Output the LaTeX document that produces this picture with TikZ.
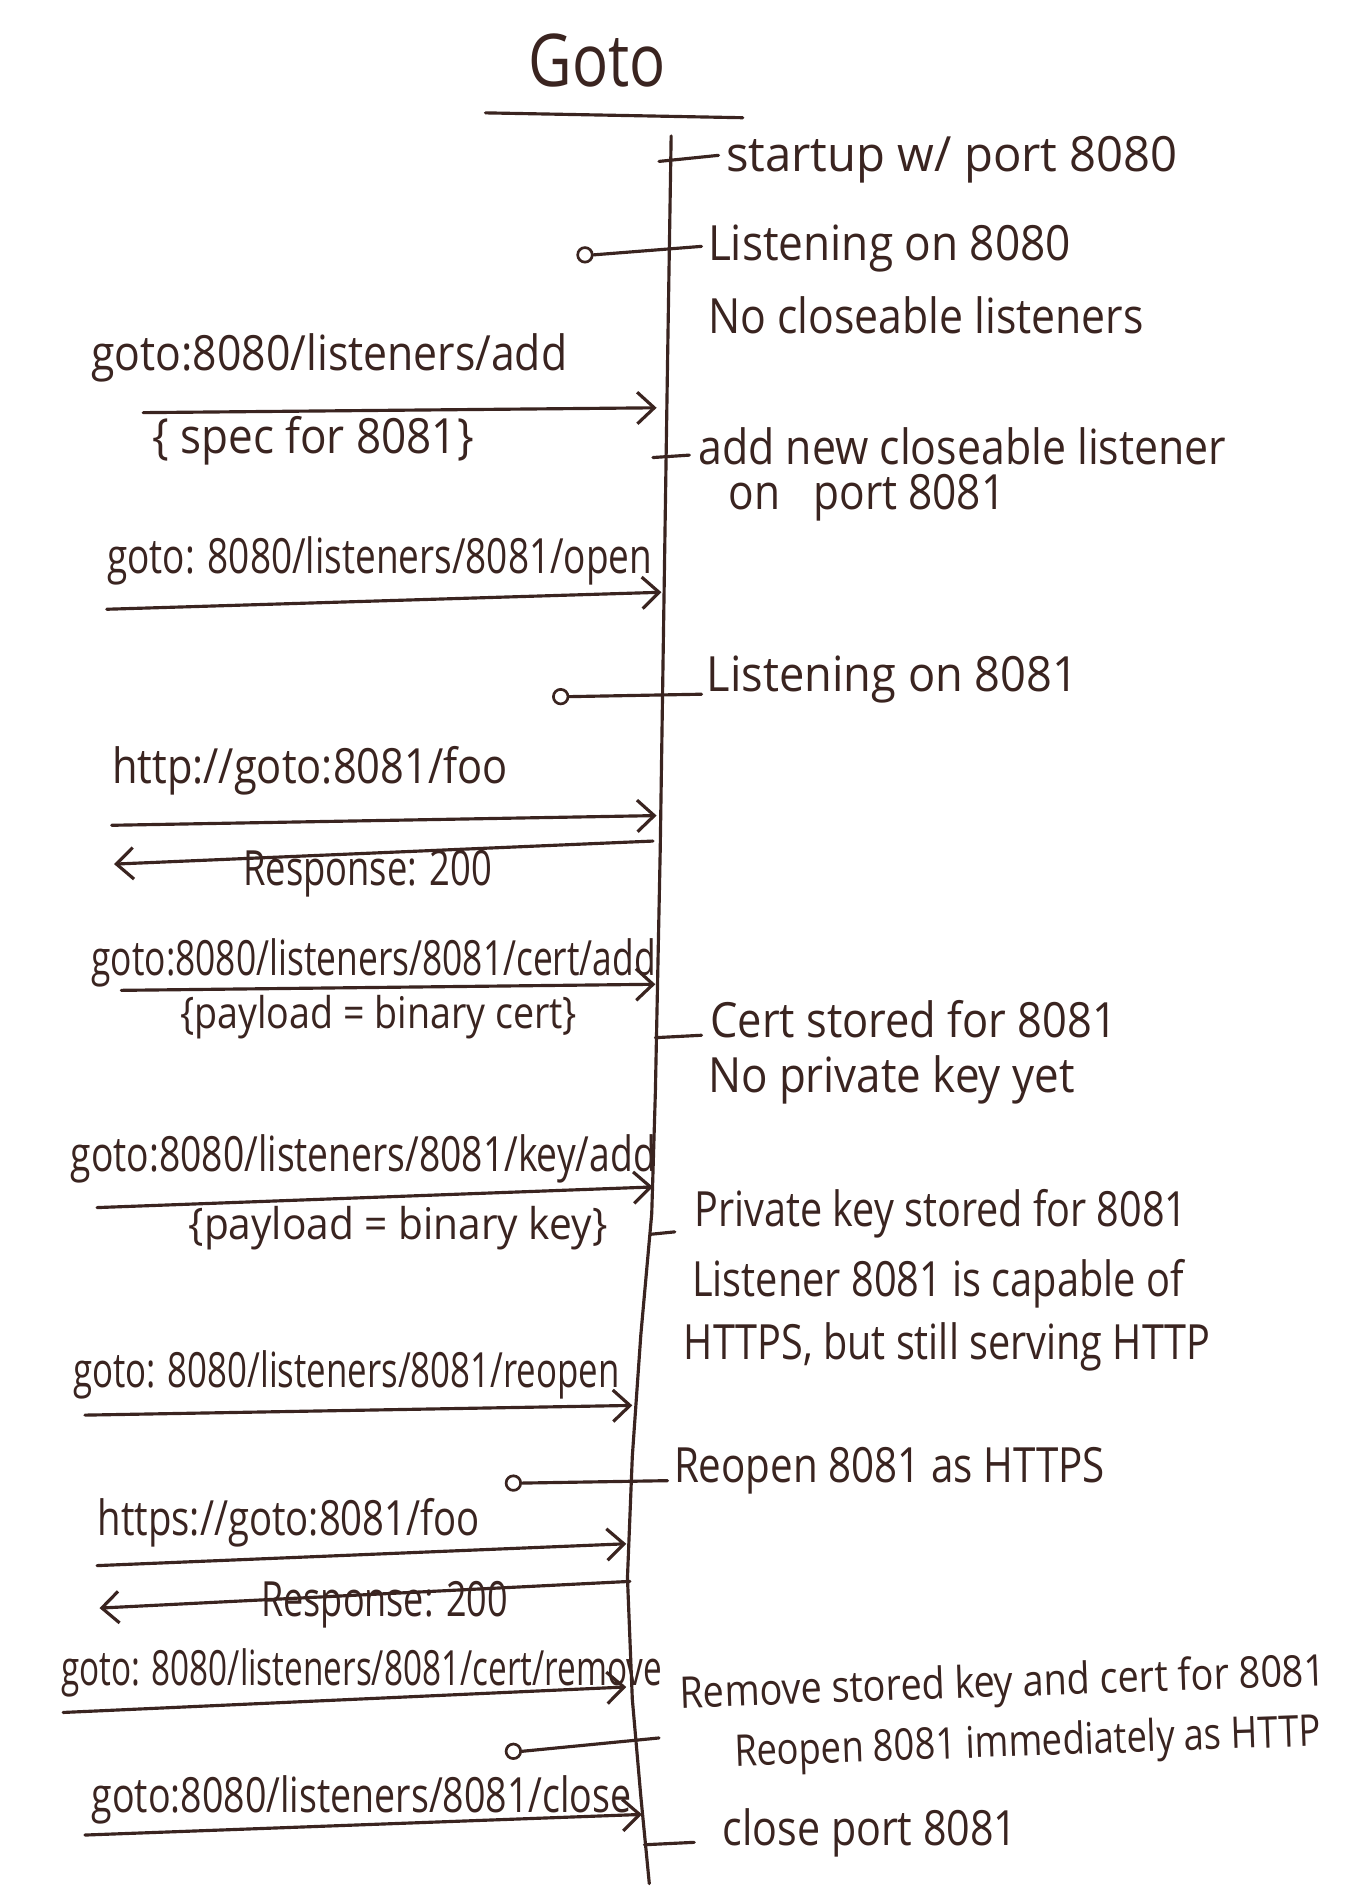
\documentclass[tikz,border=0pt]{standalone}
\usepackage{fontspec}
\setmainfont{Open Sans}
\usetikzlibrary{arrows.meta}
\definecolor{ink}{RGB}{58,36,32}
\newlength\du
\setlength\du{0.5pt}
\newcommand\hw[2]{\resizebox{#1\du}{\height}{#2}}
\begin{document}
\begin{tikzpicture}[x=0.5pt,y=-0.5pt,
  inkline/.style={draw=ink,line width=1.3pt,line cap=round,line join=round},
  msg/.style={inkline,-{Straight Barb[length=7pt,width=13pt]}},
  lbl/.style={anchor=west,inner sep=0pt,text=ink,font=\fontsize{20}{24}\selectfont},
  sml/.style={lbl,font=\fontsize{18}{22}\selectfont},
  found/.style={circle,draw=ink,line width=1.1pt,minimum size=6pt,inner sep=0pt}]
\useasboundingbox (0,0) rectangle (1122,1568);
\fill[white] (0,0) rectangle (1122,1568);

% title
\node[inner sep=0pt,text=ink,font=\fontsize{30}{36}\selectfont] (title) at (492,50) {\hw{113}{Goto}};
\coordinate (ul1) at (400,93);
\coordinate (ul2) at (612,97);
\draw[inkline] (ul1) -- (ul2);

% lifeline
\coordinate (L0) at (553,112);
\coordinate (L1) at (550,300);
\coordinate (L2) at (547,500);
\coordinate (L3) at (544,700);
\coordinate (L4) at (540,900);
\coordinate (L5) at (537,1000);
\coordinate (L6) at (528,1100);
\coordinate (L7) at (521,1200);
\coordinate (L8) at (517,1300);
\coordinate (L9) at (521,1400);
\coordinate (L10) at (528,1480);
\coordinate (L11) at (535,1552);
\draw[inkline] (L0) -- (L1) -- (L2) -- (L3) -- (L4) -- (L5) -- (L6) -- (L7) -- (L8) -- (L9) -- (L10) -- (L11);

% startup
\coordinate (t1s) at (543,133);
\coordinate (t1e) at (592,128);
\draw[inkline] (t1s) -- (t1e);
\node[lbl] (n1) at (598,132) {\hw{372}{startup w/ port 8080}};

% listening 8080
\node[found] (f1) at (482,210) {};
\coordinate (f1e) at (578,203);
\draw[inkline] (f1.east) -- (f1e);
\node[lbl] (n2) at (583,205) {\hw{299}{Listening on 8080}};
\node[lbl] (n3) at (583,260) {\hw{359}{No closeable listeners}};

% listeners/add
\node[lbl] (m1) at (75,295) {\hw{392}{goto:8080/listeners/add}};
\coordinate (a1s) at (118,340);
\coordinate (a1e) at (541,336);
\draw[msg] (a1s) -- (a1e);
\node[lbl] (m1b) at (125,363) {\hw{265}{\{ spec for 8081\}}};

\coordinate (t3s) at (538,377);
\coordinate (t3e) at (568,375);
\draw[inkline] (t3s) -- (t3e);
\node[lbl] (n4) at (575,368) {\hw{435}{add new closeable listener}};
\node[lbl] (n5) at (600,410) {\hw{228}{on~~ port 8081}};

% open
\node[lbl] (m2) at (88,462) {\hw{449}{goto: 8080/listeners/8081/open}};
\coordinate (a2s) at (88,502);
\coordinate (a2e) at (545,488);
\draw[msg] (a2s) -- (a2e);

% listening 8081
\node[found] (f2) at (462,574) {};
\coordinate (f2e) at (578,572);
\draw[inkline] (f2.east) -- (f2e);
\node[lbl] (n6) at (582,560) {\hw{306}{Listening on 8081}};

% http foo
\node[lbl] (m3) at (92,635) {\hw{326}{http://goto:8081/foo}};
\coordinate (a3s) at (92,680);
\coordinate (a3e) at (541,672);
\draw[msg] (a3s) -- (a3e);
\coordinate (r1s) at (538,693);
\coordinate (r1e) at (94,712);
\draw[msg] (r1s) -- (r1e);
\node[lbl] (m3b) at (200,720) {\hw{205}{Response: 200}};

% cert add
\node[lbl] (m4) at (75,793) {\hw{465}{goto:8080/listeners/8081/cert/add}};
\coordinate (a4s) at (100,816);
\coordinate (a4e) at (540,811);
\draw[msg] (a4s) -- (a4e);
\node[sml] (m4b) at (148,838) {\hw{327}{\{payload = binary cert\}}};

\coordinate (t5s) at (540,855);
\coordinate (t5e) at (578,853);
\draw[inkline] (t5s) -- (t5e);
\node[lbl] (n7) at (585,840) {\hw{335}{Cert stored for 8081}};
\node[lbl] (n8) at (583,890) {\hw{302}{No private key yet}};

% key add
\node[lbl] (m5) at (58,955) {\hw{482}{goto:8080/listeners/8081/key/add}};
\coordinate (a5s) at (80,995);
\coordinate (a5e) at (538,978);
\draw[msg] (a5s) -- (a5e);
\node[sml] (m5b) at (155,1012) {\hw{345}{\{payload = binary key\}}};

\coordinate (t6s) at (536,1017);
\coordinate (t6e) at (556,1015);
\draw[inkline] (t6s) -- (t6e);
\node[lbl] (n9) at (572,1000) {\hw{406}{Private key stored for 8081}};
\node[lbl] (n10) at (570,1058) {\hw{405}{Listener 8081 is capable of}};
\node[lbl] (n11) at (563,1110) {\hw{434}{HTTPS, but still serving HTTP}};

% reopen
\node[lbl] (m6) at (60,1133) {\hw{450}{goto: 8080/listeners/8081/reopen}};
\coordinate (a6s) at (70,1166);
\coordinate (a6e) at (521,1158);
\draw[msg] (a6s) -- (a6e);

\node[found] (f3) at (423,1222) {};
\coordinate (f3e) at (550,1220);
\draw[inkline] (f3.east) -- (f3e);
\node[lbl] (n12) at (555,1212) {\hw{355}{Reopen 8081 as HTTPS}};

% https foo
\node[lbl] (m7) at (80,1255) {\hw{315}{https://goto:8081/foo}};
\coordinate (a7s) at (80,1290);
\coordinate (a7e) at (516,1272);
\draw[msg] (a7s) -- (a7e);
\coordinate (r2s) at (519,1303);
\coordinate (r2e) at (82,1325);
\draw[msg] (r2s) -- (r2e);
\node[lbl] (m7b) at (215,1322) {\hw{203}{Response: 200}};

% cert remove
\node[lbl] (m8) at (50,1378) {\hw{495}{goto: 8080/listeners/8081/cert/remove}};
\coordinate (a8s) at (52,1411);
\coordinate (a8e) at (516,1390);
\draw[msg] (a8s) -- (a8e);

\node[found] (f4) at (423,1443) {};
\coordinate (f4e) at (543,1432);
\draw[inkline] (f4.east) -- (f4e);
\node[sml,rotate=2] (n13) at (560,1398) {\hw{532}{Remove stored key and cert for 8081}};
\node[sml,rotate=2] (n14) at (605,1446) {\hw{483}{Reopen 8081 immediately as HTTP}};

% close
\node[lbl] (m9) at (75,1483) {\hw{445}{goto:8080/listeners/8081/close}};
\coordinate (a9s) at (70,1512);
\coordinate (a9e) at (529,1495);
\draw[msg] (a9s) -- (a9e);

\coordinate (t9s) at (531,1520);
\coordinate (t9e) at (572,1518);
\draw[inkline] (t9s) -- (t9e);
\node[lbl] (n15) at (595,1510) {\hw{243}{close port 8081}};
\end{tikzpicture}
\end{document}
